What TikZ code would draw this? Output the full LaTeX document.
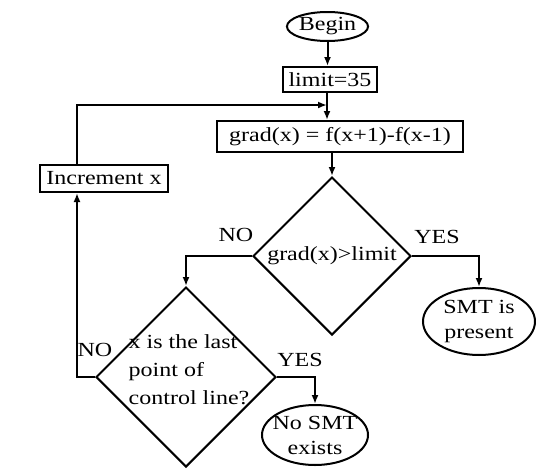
\documentclass[tikz,border=0pt]{standalone}
\usepackage{fontspec}
\setmainfont{Liberation Serif}[FakeStretch=1.2]
\usetikzlibrary{arrows.meta,shapes.geometric,positioning}
\tikzset{%
  >={Latex[width=7pt,length=9pt]},
  % Specifications for style of nodes:
        base/.style = {draw=black, line width=2pt, inner sep=0pt,
                       text centered},
    terminal/.style = {base, ellipse, align=center},
     process/.style = {base, rectangle},
    decision/.style = {base, diamond, minimum width=158pt,
                       minimum height=158pt},
        flow/.style = {line width=2pt},
}

\begin{document}
\begin{tikzpicture}[x=1pt, y=-1pt,
    every node/.style={font=\fontsize{20}{25}\selectfont}]
  \useasboundingbox (0,0) rectangle (536,472);
  % Specification of nodes (position, etc.)
  \node (begin)   [terminal, minimum width=81pt, minimum height=29pt] at (327.5,26.5) {Begin};
  \node (limit)   [process, minimum width=94pt, minimum height=25pt] at (330,79.5) {limit=35};
  \node (grad)    [process, minimum width=246pt, minimum height=31pt] at (340,136.5) {grad(x) = f(x+1)-f(x-1)};
  \node (incr)    [process, minimum width=128pt, minimum height=27pt] at (104,178.5) {Increment x};
  \node (check)   [decision] at (332,256) {grad(x)>limit};
  \node (last)    [decision, minimum width=180pt, minimum height=180pt] at (186,377) {};
  \node (lasttext) [align=left, font=\fontsize{20}{28}\selectfont] at (189,370) {x is the last\\point of\\control line?};
  \node (present) [terminal, inner sep=-6pt, minimum width=112pt, minimum height=67pt] at (479,321.5) {SMT is\\present};
  \node (none)    [terminal, inner sep=-8pt, minimum width=106pt, minimum height=60pt] at (315,435) {No SMT\\exists};
  % answers next to the decisions
  \node (checkno)  at (236,235) {NO};
  \node (checkyes) at (437,237) {YES};
  \node (lastyes)  at (300,360) {YES};
  \node (lastno)   at (95,350) {NO};
  % Specification of lines between nodes specified above
  \coordinate (join) at (327,105);
  \coordinate (back) at (77,376);
  \draw[flow,->] (begin.south) -- (begin.south |- limit.north);
  \draw[flow,->] (limit.south -| join) -- (join |- grad.north);
  \draw[flow,->] (check.north |- grad.south) -- (check.north);
  \draw[flow,->] (check.west) -| (last.north);
  \draw[flow,->] (check.east) -| (present.north);
  \draw[flow,->] (last.east) -| (none.north);
  \draw[flow,->] (last.west) -- (last.west -| back) -- (back |- incr.south);
  \draw[flow,->] (back |- incr.north) |- (join);
\end{tikzpicture}
\end{document}
